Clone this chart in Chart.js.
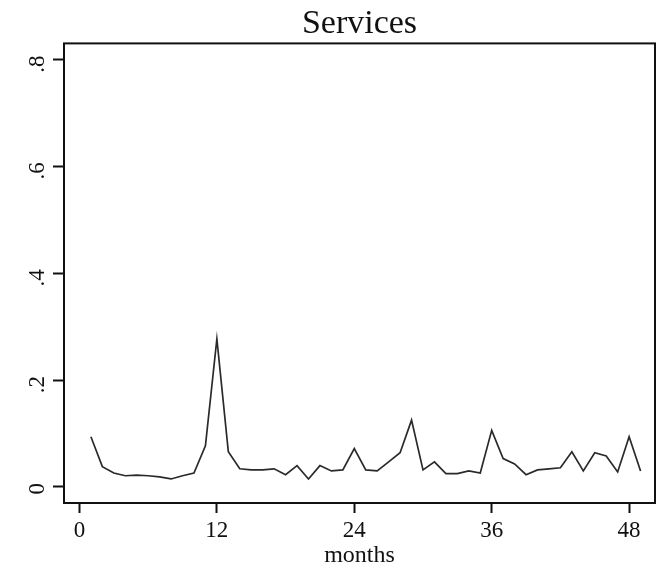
<!DOCTYPE html>
<html>
<head>
<meta charset="utf-8">
<script src="https://cdn.jsdelivr.net/npm/chart.js@4/dist/chart.umd.min.js"></script>
<style>
  html, body { margin: 0; padding: 0; background: #fff; }
  #wrap { width: 663px; height: 568px; }
</style>
</head>
<body>
<div id="wrap"><canvas id="servicesChart"></canvas></div>
<script>
// months 1..49
var months = [];
for (var m = 1; m <= 49; m++) months.push(m);

var services = [
    0.094, 0.038, 0.026, 0.021, 0.022, 0.021, 0.019, 0.015, 0.021, 0.026,
    0.077, 0.277, 0.066, 0.034, 0.032, 0.032, 0.034, 0.023, 0.040, 0.015,
    0.040, 0.030, 0.032, 0.072, 0.032, 0.030, 0.047, 0.064, 0.125, 0.032,
    0.047, 0.025, 0.025, 0.030, 0.026, 0.106, 0.053, 0.043, 0.023, 0.032,
    0.034, 0.036, 0.066, 0.030, 0.064, 0.058, 0.028, 0.094, 0.030
];

var xTicks = [0, 12, 24, 36, 48];
var yTicks = [0, 0.2, 0.4, 0.6, 0.8];
var yTickLabels = ['0', '.2', '.4', '.6', '.8'];

var serif = "'Liberation Serif', 'DejaVu Serif', serif";

// box around plot region
var boxPlugin = {
    id: 'box',
    afterDraw: function (chart) {
        var a = chart.chartArea;
        var ctx = chart.ctx;
        ctx.save();
        ctx.strokeStyle = '#111';
        ctx.lineWidth = 2;
        ctx.strokeRect(a.left, a.top, a.right - a.left, a.bottom - a.top);
        ctx.restore();
    }
};

var ctx = document.getElementById('servicesChart').getContext('2d');
new Chart(ctx, {
    type: 'line',
    data: {
        datasets: [{
            label: 'Services',
            data: months.map(function (m, i) { return { x: m, y: services[i] }; }),
            borderColor: '#2a2a2a',
            borderWidth: 1.7,
            pointRadius: 0,
            tension: 0,
            fill: false
        }]
    },
    options: {
        responsive: true,
        maintainAspectRatio: false,
        animation: false,
        layout: { padding: { top: 0, right: 8, bottom: 0, left: 0 } },
        plugins: {
            legend: { display: false },
            tooltip: { enabled: false },
            title: {
                display: true,
                text: 'Services',
                fullSize: false,
                color: '#111',
                font: { family: serif, size: 34, weight: 'normal', lineHeight: 1.1 },
                padding: { top: 5, bottom: 1 }
            }
        },
        scales: {
            x: {
                type: 'linear',
                min: -1.35,
                max: 50.26,
                afterBuildTicks: function (s) {
                    s.ticks = xTicks.map(function (v) { return { value: v }; });
                },
                afterFit: function (s) { s.height = 65; },
                grid: { drawOnChartArea: false, tickLength: 10, color: '#111', tickWidth: 2 },
                border: { display: false },
                ticks: {
                    color: '#111',
                    maxRotation: 0,
                    padding: 6,
                    font: { family: serif, size: 23, lineHeight: 1.0 }
                },
                title: {
                    display: true,
                    text: 'months',
                    color: '#111',
                    padding: { top: -5, bottom: 0 },
                    font: { family: serif, size: 24, lineHeight: 1.0 }
                }
            },
            y: {
                type: 'linear',
                min: -0.030,
                max: 0.830,
                afterBuildTicks: function (s) {
                    s.ticks = yTicks.map(function (v) { return { value: v }; });
                },
                afterFit: function (s) { s.width = 64; },
                grid: { drawOnChartArea: false, tickLength: 11, color: '#111', tickWidth: 2 },
                border: { display: false },
                ticks: {
                    color: '#111',
                    minRotation: 90,
                    maxRotation: 90,
                    padding: 15,
                    labelOffset: -4,
                    font: { family: serif, size: 23 },
                    callback: function (v) {
                        var i = yTicks.indexOf(v);
                        return i >= 0 ? yTickLabels[i] : '';
                    }
                }
            }
        }
    },
    plugins: [boxPlugin]
});
</script>
</body>
</html>
